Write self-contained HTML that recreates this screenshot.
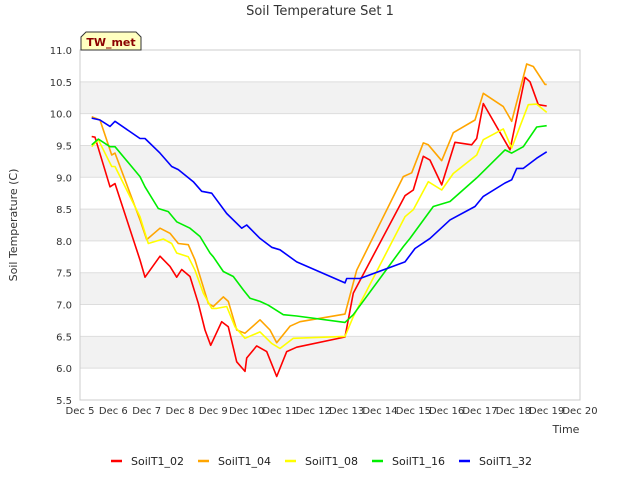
<!DOCTYPE html>
<html><head><meta charset="utf-8"><style>
body{margin:0;background:#fff;}
svg text{font-family:"DejaVu Sans","Liberation Sans",sans-serif;}
</style></head><body>
<svg id="chart" width="640" height="480" xmlns="http://www.w3.org/2000/svg">
<rect width="640" height="480" fill="#fff"/>
<g id="bands"></g>
<g id="grid"></g>
<rect x="80" y="50" width="500" height="350" fill="none" stroke="#ccc"/>
<g id="ticks"></g>
<g id="series"></g>
<text x="320" y="15" text-anchor="middle" font-size="13" fill="#333">Soil Temperature Set 1</text>
<text transform="translate(17,225) rotate(-90)" text-anchor="middle" font-size="11" fill="#333">Soil Temperature (C)</text>
<text x="566" y="433" text-anchor="middle" font-size="11" fill="#333">Time</text>
<g>
<path d="M81,50 L81,37 L86,32 L136,32 L141,37 L141,50 Z" fill="#ffffc0" stroke="#333"/>
<text x="111" y="46" text-anchor="middle" font-size="11" font-weight="bold" fill="#8b0000">TW_met</text>
</g>
<g id="legend"></g>
</svg>
<script>
const yTicks=[5.5,6.0,6.5,7.0,7.5,8.0,8.5,9.0,9.5,10.0,10.5,11.0];
const xTickDays=[5,6,7,8,9,10,11,12,13,14,15,16,17,18,19,20];
const seriesNames=["SoilT1_02","SoilT1_04","SoilT1_08","SoilT1_16","SoilT1_32"];
const seriesColors=["#ff0000","#ffa500","#ffff00","#00ee00","#0000ff"];
const t02=[5.35,5.45,5.9,6.05,6.8,6.95,7.4,7.7,7.9,8.05,8.3,8.55,8.75,8.92,9.25,9.45,9.7,9.95,10.0,10.3,10.6,10.9,11.2,11.5,12.95,13.2,14.75,15.0,15.3,15.5,15.85,16.25,16.75,16.9,17.1,17.9,18.35,18.5,18.75,19.0];
const v02=[9.64,9.63,8.85,8.9,7.7,7.43,7.76,7.6,7.43,7.55,7.44,7.02,6.6,6.36,6.73,6.65,6.1,5.95,6.16,6.35,6.26,5.87,6.26,6.33,6.49,7.18,8.71,8.8,9.33,9.27,8.88,9.55,9.51,9.61,10.16,9.43,10.57,10.5,10.14,10.12];
const t04=[5.35,5.6,5.95,6.05,6.8,7.0,7.4,7.7,7.95,8.25,8.45,8.85,9.0,9.3,9.45,9.7,9.95,10.4,10.7,10.9,11.3,11.6,12.95,13.3,14.7,14.95,15.3,15.45,15.85,16.2,16.85,17.1,17.7,17.95,18.4,18.6,18.95,19.0];
const v04=[9.95,9.9,9.35,9.38,8.33,8.02,8.2,8.12,7.96,7.94,7.7,7.02,6.97,7.12,7.05,6.6,6.55,6.76,6.6,6.4,6.66,6.73,6.85,7.54,9.01,9.07,9.54,9.51,9.26,9.7,9.9,10.32,10.11,9.88,10.78,10.74,10.46,10.46];
const t08=[5.35,5.55,5.95,6.05,6.8,7.05,7.5,7.75,7.9,8.25,8.45,8.7,8.95,9.1,9.4,9.65,9.95,10.4,10.75,11.0,11.4,12.95,13.2,14.75,15.0,15.45,15.85,16.2,16.9,17.1,17.7,17.95,18.45,18.7,19.0];
const v08=[9.48,9.59,9.17,9.17,8.38,7.96,8.03,7.96,7.81,7.75,7.54,7.18,6.94,6.94,6.97,6.65,6.47,6.57,6.39,6.31,6.47,6.5,6.81,8.38,8.49,8.93,8.8,9.06,9.35,9.59,9.76,9.46,10.14,10.15,10.02];
const t16=[5.35,5.55,5.9,6.05,6.8,6.95,7.35,7.65,7.9,8.3,8.6,8.9,9.0,9.3,9.6,9.9,10.1,10.4,10.65,11.1,11.5,12.95,13.2,14.7,14.9,15.6,16.1,16.9,17.75,17.95,18.3,18.7,19.0];
const v16=[9.51,9.6,9.48,9.48,9.01,8.85,8.51,8.46,8.3,8.2,8.07,7.81,7.75,7.52,7.44,7.23,7.1,7.05,6.99,6.84,6.82,6.72,6.84,7.91,8.04,8.54,8.62,8.99,9.43,9.38,9.48,9.79,9.81];
const t32=[5.35,5.6,5.9,6.05,6.8,6.95,7.4,7.75,7.95,8.4,8.65,8.95,9.4,9.85,10.0,10.4,10.75,11.0,11.5,12.95,13.0,13.4,14.75,15.05,15.5,16.1,16.85,17.1,17.75,17.95,18.1,18.3,18.7,19.0];
const v32=[9.93,9.9,9.8,9.88,9.61,9.61,9.38,9.17,9.12,8.93,8.78,8.75,8.43,8.2,8.25,8.04,7.9,7.86,7.67,7.34,7.41,7.41,7.67,7.88,8.04,8.33,8.54,8.7,8.91,8.96,9.14,9.14,9.3,9.4];
const allT=[t02,t04,t08,t16,t32], allV=[v02,v04,v08,v16,v32];
const NS="http://www.w3.org/2000/svg";
const X0=80,X1=580,Y0=400,Y1=50;
function xs(d){return X0+(d-5)/(20-5)*(X1-X0);}
function ys(v){return Y0-(v-5.5)/(11-5.5)*(Y0-Y1);}
function mk(tag,attrs,parent){const e=document.createElementNS(NS,tag);for(const k in attrs)e.setAttribute(k,attrs[k]);parent.appendChild(e);return e;}
const bands=document.getElementById('bands'),grid=document.getElementById('grid'),ticks=document.getElementById('ticks'),series=document.getElementById('series'),legend=document.getElementById('legend');
for(let i=0;i<yTicks.length-1;i++){
  if(i%2===1){const r=mk('rect',{x:X0,y:ys(yTicks[i+1]),width:X1-X0,height:ys(yTicks[i])-ys(yTicks[i+1]),fill:'#f2f2f2'},bands);
  
  }
}
yTicks.forEach(v=>{
  const l=mk('line',{x1:X0,x2:X1,y1:ys(v),y2:ys(v),stroke:'#ddd'},grid);
  
  
  const t=mk('text',{x:X0-8,y:ys(v)+4,'text-anchor':'end','font-size':'10',fill:'#333'},ticks);
  t.textContent=v.toFixed(1);
  
  
});
xTickDays.forEach(d=>{
  const t=mk('text',{x:xs(d),y:414,'text-anchor':'middle','font-size':'10',fill:'#333'},ticks);
  t.textContent='Dec '+d;
  
  
});
allT.forEach((ts,i)=>{
  const pts=ts.map((d,j)=>xs(d).toFixed(1)+','+ys(allV[i][j]).toFixed(1)).join(' ');
  const p=mk('polyline',{points:pts,fill:'none',stroke:seriesColors[i],'stroke-width':'1.6','stroke-linejoin':'round'},series);
  
  
});
const legX=[111,198,285,372,459];
seriesNames.forEach((n,i)=>{
  const g=mk('g',{},legend);
  
  
  mk('line',{x1:legX[i],x2:legX[i]+11,y1:461,y2:461,stroke:seriesColors[i],'stroke-width':'2.5'},g);
  const t=mk('text',{x:legX[i]+20,y:465,'font-size':'11',fill:'#222'},g);
  t.textContent=n;
});
</script>
</body></html>
